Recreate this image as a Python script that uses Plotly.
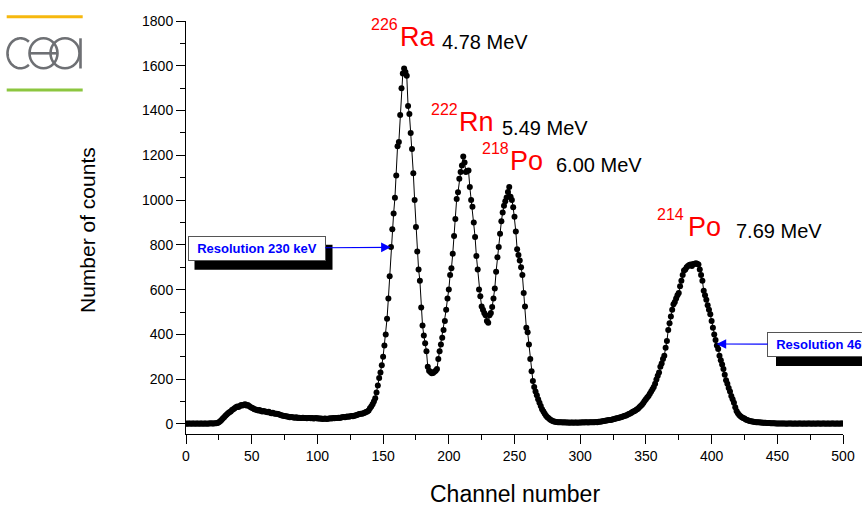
import math
import plotly.graph_objects as go

# ---------------- data ----------------
channels = list(range(0, 501))
counts = [
    # 0-9
    2, 1, 2, 2, 1, 2, 2, 1, 2, 2,
    # 10-19
    1, 2, 2, 1, 2, 2, 1, 2, 2, 3,
    # 20-29
    2, 2, 3, 3, 4, 7, 12, 18, 24, 30,
    # 30-39
    36, 42, 48, 52, 56, 62, 66, 70, 74, 78,
    # 40-49
    76, 80, 84, 82, 86, 88, 82, 84, 80, 76,
    # 50-59
    72, 70, 66, 64, 62, 60, 62, 58, 56, 58,
    # 60-69
    55, 54, 52, 54, 50, 48, 50, 47, 45, 46,
    # 70-79
    44, 42, 40, 38, 36, 35, 34, 33, 32, 30,
    # 80-89
    31, 30, 29, 28, 30, 27, 28, 26, 27, 28,
    # 90-99
    26, 27, 25, 26, 27, 25, 26, 24, 25, 26,
    # 100-109
    24, 25, 23, 24, 22, 23, 24, 22, 23, 24,
    # 110-119
    25, 24, 26, 25, 27, 26, 28, 27, 29, 30,
    # 120-129
    31, 30, 32, 33, 32, 34, 35, 34, 36, 38,
    # 130-139
    40, 42, 44, 46, 45, 48, 50, 53, 56, 60,
    # 140-149
    70, 78, 88, 100, 115, 140, 172, 205, 230, 262,
    # 150-159
    300, 350, 400, 470, 560, 660, 790, 870, 940, 1010,
    # 160-169
    1110, 1240, 1260, 1380, 1500, 1565, 1588, 1572, 1555, 1420,
    # 170-179
    1385, 1300, 1228, 1120, 1000, 880, 770, 690, 640, 520,
    # 180-189
    440, 395, 360, 325, 255, 238, 232, 226, 228, 233,
    # 190-199
    238, 245, 290, 325, 355, 385, 420, 460, 510, 560,
    # 200-209
    600, 665, 695, 760, 840, 915, 1005, 1035, 1095, 1125,
    # 210-219
    1155, 1195, 1168, 1125, 1130, 1132, 1058, 1000, 970, 900,
    # 220-229
    835, 750, 690, 600, 570, 525, 510, 495, 485, 460,
    # 230-239
    452, 485, 495, 522, 560, 605, 680, 745, 790, 850,
    # 240-249
    905, 945, 975, 995, 1012, 1036, 1058, 1015, 1000, 968,
    # 250-259
    925, 860, 780, 755, 730, 700, 665, 585, 525, 430,
    # 260-269
    410, 355, 290, 235, 192, 165, 145, 128, 110, 95,
    # 270-279
    80, 66, 55, 45, 36, 30, 25, 20, 16, 13,
    # 280-289
    11, 10, 9, 8, 8, 7, 7, 6, 7, 6,
    # 290-299
    6, 6, 5, 6, 6, 5, 6, 6, 5, 6,
    # 300-309
    6, 6, 7, 6, 7, 7, 6, 7, 8, 7,
    # 310-319
    8, 8, 9, 8, 10, 10, 11, 12, 13, 14,
    # 320-329
    15, 16, 17, 18, 19, 21, 22, 24, 25, 27,
    # 330-339
    29, 30, 32, 34, 36, 38, 41, 44, 47, 50,
    # 340-349
    54, 57, 60, 64, 68, 74, 80, 86, 94, 102,
    # 350-359
    110, 118, 125, 135, 145, 155, 165, 180, 198, 215,
    # 360-369
    230, 255, 270, 290, 305, 340, 370, 420, 450, 480,
    # 370-379
    510, 535, 545, 560, 575, 585, 615, 640, 665, 685,
    # 380-389
    690, 700, 705, 710, 712, 706, 714, 715, 718, 716,
    # 390-399
    712, 690, 665, 640, 595, 575, 555, 530, 510, 490,
    # 400-409
    460, 430, 400, 375, 350, 335, 305, 285, 265, 245,
    # 410-419
    220, 195, 180, 160, 145, 125, 110, 95, 75, 58,
    # 420-429
    48, 40, 34, 30, 27, 24, 20, 18, 15, 13,
    # 430-439
    12, 11, 10, 9, 8, 7, 7, 6, 6, 5,
    # 440-449
    5, 5, 4, 4, 4, 3, 3, 3, 3, 2,
    # 450-459
    2, 2, 2, 2, 2, 2, 2, 1, 2, 2,
    # 460-469
    2, 2, 1, 2, 2, 1, 2, 2, 2, 1,
    # 470-479
    2, 2, 1, 2, 2, 2, 1, 2, 2, 1,
    # 480-489
    2, 2, 2, 1, 2, 2, 2, 1, 2, 2,
    # 490-500
    1, 2, 2, 2, 1, 2, 2, 1, 2, 2, 2,
]

x_tick_vals = [0, 50, 100, 150, 200, 250, 300, 350, 400, 450, 500]
y_tick_vals = [0, 200, 400, 600, 800, 1000, 1200, 1400, 1600, 1800]

isotope_mass = ["226", "222", "218", "214"]
isotope_elem = ["Ra", "Rn", "Po", "Po"]
isotope_energy = ["4.78 MeV", "5.49 MeV", "6.00 MeV", "7.69 MeV"]

resolution_texts = ["Resolution 230 keV", "Resolution 460 keV"]
resolution_points_x = [155.8, 403.8]
resolution_points_y = [789, 357]

# ---------------- layout geometry ----------------
W, H = 862, 511
ML, MR, MT, MB = 186, 19, 21, 77
PW = W - ML - MR
PH = H - MT - MB
PLOT_BOTTOM = H - MB


def px_to_paper(px, py):
    return (px - ML) / PW, (PLOT_BOTTOM - py) / PH


FONT = "Arial, Liberation Sans, sans-serif"

fig = go.Figure()
fig.add_trace(go.Scatter(
    x=channels, y=counts, mode="lines+markers",
    line=dict(color="black", width=1),
    marker=dict(color="black", size=6),
    showlegend=False, hoverinfo="x+y",
))

annotations = []
shapes = []


def text_label(text, left_px, base_px, size, color):
    x, y = px_to_paper(left_px - 0.06 * size, base_px + 0.21 * size)
    annotations.append(dict(
        text=text, xref="paper", yref="paper", x=x, y=y,
        xanchor="left", yanchor="bottom", showarrow=False,
        borderpad=0, borderwidth=0,
        font=dict(family=FONT, size=size, color=color),
    ))


# isotope labels (glyph left edge, baseline) in pixels
sup_pos = [(372.3, 29.3), (431.7, 115), (482.7, 154), (658.3, 219.3)]
elem_pos = [(401.7, 46), (460.7, 131), (511.7, 170), (689.3, 236)]
en_pos = [(443.3, 48.3), (503.3, 135), (556.7, 171.7), (736.7, 237.7)]
for i in range(4):
    text_label(isotope_mass[i], sup_pos[i][0], sup_pos[i][1], 16, "#FF0000")
    text_label(isotope_elem[i], elem_pos[i][0], elem_pos[i][1], 27, "#FF0000")
    text_label(isotope_energy[i], en_pos[i][0], en_pos[i][1], 20, "#000000")

# resolution boxes with arrows
box_centers = [(256.5, 248.2), (838.0, 344.5)]
tip_px = [(390.7, 247.3), (718.3, 344.0)]
for i in range(2):
    cx, cy = box_centers[i]
    tx, ty = tip_px[i]
    # shadow
    sx0, sy0 = px_to_paper(cx - 69 + 7, cy + 12.5 + 9)
    sx1, sy1 = px_to_paper(cx + 69 + 7, cy - 12.5 + 9)
    shapes.append(dict(type="rect", xref="paper", yref="paper",
                       x0=sx0, x1=sx1, y0=sy0, y1=sy1,
                       fillcolor="black", line=dict(width=0), layer="above"))
    annotations.append(dict(
        text="<b>" + resolution_texts[i] + "</b>",
        x=resolution_points_x[i], y=resolution_points_y[i],
        xref="x", yref="y",
        showarrow=True, axref="pixel", ayref="pixel",
        ax=cx - tx, ay=cy - ty,
        arrowhead=2, arrowsize=1.6, arrowwidth=1.2, arrowcolor="#0000FF",
        standoff=0, startstandoff=0,
        bgcolor="white", bordercolor="#555555", borderwidth=1, borderpad=1,
        width=134, height=21, align="center", valign="middle",
        font=dict(family=FONT, size=13, color="#0000FF"),
    ))

# axis titles
tx, ty = px_to_paper(514.5, 494)
annotations.append(dict(text="Channel number", xref="paper", yref="paper",
                        x=tx, y=ty, showarrow=False, xanchor="center", yanchor="middle",
                        font=dict(family=FONT, size=23, color="black")))
tx, ty = px_to_paper(88, 230)
annotations.append(dict(text="Number of counts", xref="paper", yref="paper",
                        x=tx, y=ty, showarrow=False, xanchor="center", yanchor="middle",
                        textangle=-90,
                        font=dict(family=FONT, size=21, color="black")))

# ---------------- CEA logo ----------------
GREY = "#6E7074"


def line_shape(p0, p1, color, width):
    x0, y0 = px_to_paper(*p0)
    x1, y1 = px_to_paper(*p1)
    shapes.append(dict(type="line", xref="paper", yref="paper",
                       x0=x0, y0=y0, x1=x1, y1=y1,
                       line=dict(color=color, width=width)))


line_shape((6.7, 16.7), (82.7, 16.7), "#F6B80F", 3)
line_shape((6.7, 90.0), (82.7, 90.0), "#8CC63F", 3)

# "c": open arc
cx, cy, rx, ry = 20.5, 53.3, 13.0, 15.0
pts = []
for k in range(0, 61):
    a = math.radians(50 + k * (260 / 60))
    pts.append(px_to_paper(cx + rx * math.cos(a), cy - ry * math.sin(a)))
path = "M " + " L ".join(f"{p[0]:.5f},{p[1]:.5f}" for p in pts)
shapes.append(dict(type="path", xref="paper", yref="paper", path=path,
                   line=dict(color=GREY, width=2.6)))

# "e": ring + bar
x0, y0 = px_to_paper(29.5, 68.3)
x1, y1 = px_to_paper(57.5, 38.3)
shapes.append(dict(type="circle", xref="paper", yref="paper",
                   x0=x0, y0=y0, x1=x1, y1=y1, line=dict(color=GREY, width=2.6)))
line_shape((29.5, 53.3), (57.5, 53.3), GREY, 2.6)

# "a": ring + stem
x0, y0 = px_to_paper(50.5, 68.3)
x1, y1 = px_to_paper(79.5, 38.3)
shapes.append(dict(type="circle", xref="paper", yref="paper",
                   x0=x0, y0=y0, x1=x1, y1=y1, line=dict(color=GREY, width=2.6)))
line_shape((80.5, 38.3), (80.5, 68.5), GREY, 2.6)

axis_common = dict(
    showgrid=False, zeroline=False, showline=True, linecolor="black", linewidth=1,
    ticks="outside", ticklen=9, tickwidth=1, tickcolor="black",
    tickfont=dict(family=FONT, size=14, color="black"),
)

fig.update_layout(
    width=W, height=H,
    margin=dict(l=ML, r=MR, t=MT, b=MB, pad=0, autoexpand=False),
    paper_bgcolor="white", plot_bgcolor="white",
    xaxis=dict(range=[0, 500], tickvals=x_tick_vals,
               minor=dict(ticks="outside", ticklen=5, dtick=25, tick0=0,
                          tickcolor="black", showgrid=False),
               **axis_common),
    yaxis=dict(range=[-45, 1800], tickvals=y_tick_vals,
               minor=dict(ticks="outside", ticklen=5, dtick=100, tick0=0,
                          tickcolor="black", showgrid=False),
               **axis_common),
    annotations=annotations,
    shapes=shapes,
    font=dict(family=FONT),
)

fig.write_html(
    "out.html",
    config={"displayModeBar": False},
    post_script="document.body.style.margin='0';document.body.style.overflow='hidden';",
)
